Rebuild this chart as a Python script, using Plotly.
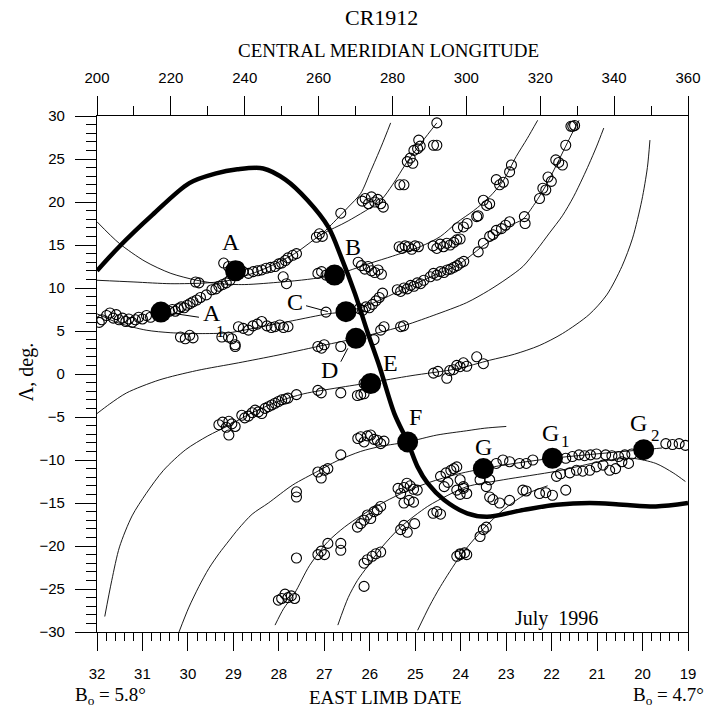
import plotly.graph_objects as go

# ---------------- data ----------------
# bottom axis: east-limb date (July 1996), top axis: central meridian longitude
date_ticks = list(range(19, 33))
lon_range = [200, 360]
date_range = [32, 19]

# thick neutral line (longitude, latitude)
neutral_lon = [200, 206, 215, 225, 232, 238, 245, 251, 257, 262.6, 266.1, 269.8, 273.3,
               276.5, 280.5, 284.1, 286.8, 289.5, 294.0, 300.2, 305.6, 315.5, 324.4,
               333.4, 342.4, 351.3, 360]
neutral_lat = [12.0, 14.8, 18.5, 22.2, 23.3, 23.8, 23.9, 22.6, 20.2, 17.1, 13.6, 9.4, 4.8,
               0.85, -4.6, -7.9, -10.8, -12.7, -14.65, -16.2, -16.6, -15.8, -15.2,
               -15.0, -15.2, -15.4, -15.0]

# thin model curves
t1_lon = [200, 206, 213, 220, 227, 233, 240, 250, 257, 264.3, 274.1, 280, 287.5, 293,
          297.4, 302, 306.3, 310, 313.5, 316.5, 319.3]
t1_lat = [17.7, 15.2, 13.1, 11.7, 10.9, 10.5, 10.4, 10.7, 11.0, 11.5, 12.9, 13.7, 14.8,
          16.0, 17.6, 19.0, 20.6, 22.5, 25.3, 27.4, 29.5]

t2_lon = [200, 210, 220, 230, 236, 244.6, 253.5, 260.7, 268, 276.8, 280, 284, 288, 292]
t2_lat = [10.9, 10.7, 10.5, 10.6, 10.9, 12.1, 14.0, 16.2, 17.8, 20.2, 22.0, 24.7, 27.0, 29.2]

v1_lon = [260.7, 264, 268, 271.4, 274, 277, 279.5]
v1_lat = [16.2, 17.6, 19.4, 21.0, 23.5, 26.5, 29.2]

n2_lon = [200, 206, 213.3, 220, 227.6, 235.7, 244.6, 253, 262.5, 267.4, 272, 277.7, 283,
          288.4, 293, 297.4, 301, 304.5, 308.1, 312, 315.3, 318.5, 321.5, 324.5, 326.9,
          329, 330.5]
n2_lat = [7.0, 5.9, 5.1, 4.8, 4.7, 4.8, 5.5, 6.2, 7.0, 7.25, 7.8, 8.8, 9.9, 10.9, 11.8,
          12.6, 13.7, 14.9, 15.9, 17.3, 18.0, 19.8, 21.9, 24.4, 26.5, 28.3, 29.5]

n3_lon = [200, 203.4, 208, 216.8, 227, 238.3, 249, 259.8, 270.1, 282.2, 291, 300.1, 306,
          311, 315.3, 319, 322.5, 326, 329, 331.5, 333.2, 335.2, 337.2]
n3_lat = [-4.6, -3.5, -2.2, -0.7, 0.4, 1.3, 2.2, 3.2, 4.15, 5.5, 6.8, 8.3, 9.7, 11.1,
          12.5, 14.4, 16.4, 18.4, 20.6, 22.8, 24.4, 26.4, 28.6]

s1_lon = [202.1, 204, 206.1, 209.5, 213.3, 218, 224, 230, 235.6, 242, 249, 256, 265.2,
          274.1, 285, 297.4, 306.3, 313, 319.7, 326, 333.2, 338, 342.1, 345, 347.5, 349,
          349.7]
s1_lat = [-28.2, -24.0, -20.1, -16.5, -13.9, -11.2, -8.8, -7.2, -6.0, -4.5, -3.2, -2.3,
          -1.6, -1.0, -0.2, 0.6, 1.6, 2.3, 3.3, 4.7, 6.9, 9.2, 12.5, 15.8, 20.2, 24.0, 27.2]

s2_lon = [222.2, 224.8, 227.6, 230.3, 233, 235.7, 238.3, 242, 246.4, 253, 259.8, 265,
          271.4, 277, 284.1, 292, 300.1, 305, 310.8]
s2_lat = [-30.0, -27.2, -24.7, -22.6, -20.9, -19.4, -18.0, -16.3, -15.0, -12.9, -11.3,
          -10.1, -9.0, -8.4, -7.9, -7.1, -6.6, -6.3, -6.1]

s3_lon = [248.2, 250.5, 253.5, 257.5, 262.5, 267, 271.4, 277.7, 283.9, 290, 297, 304.6,
          313, 323.3, 335, 348, 353]
s3_lat = [-29.2, -27.3, -25.5, -22.3, -19.5, -17.8, -16.5, -14.9, -13.6, -12.6, -11.7,
          -11.0, -10.4, -9.8, -9.3, -8.8, -8.6]

s4_lon = [265.2, 268, 270.5, 273.2, 277, 282.2, 289.5, 295, 300.1, 310, 324.4, 335,
          340.5, 345, 351.3, 356, 359.3]
s4_lat = [-29.2, -26.0, -24.0, -22.4, -20.2, -17.8, -15.4, -14.1, -13.1, -12.3, -11.3,
          -10.3, -9.9, -9.8, -10.4, -11.5, -12.5]

s5_lon = [286.8, 290, 293, 298.3, 304.6, 310, 316, 322]
s5_lat = [-29.8, -27.0, -24.7, -21.2, -18.0, -15.8, -14.0, -13.0]

# observed filament positions (open circles)
obs_north_lon = [200.6, 201.3, 202.6, 203.5, 204.4, 205.2, 206.0, 206.9, 207.8, 208.6,
                 209.5, 210.4, 211.3, 212.3, 213.4, 214.5, 219.6, 220.4, 221.2, 222.0,
                 222.8, 223.6, 224.4, 225.2, 226.0, 227.0, 228.0, 229.6, 231.1, 232.2,
                 233.0, 234.0, 235.0, 236.0, 226.7, 227.6,
                 234.3, 235.6, 238.3, 239.5, 241.0, 242.3, 243.5, 244.6, 245.8, 247.0,
                 248.2, 249.2, 250.0, 251.0, 251.7, 253.0, 254.0, 259.4, 260.2, 261.0,
                 266.0, 271.8, 272.6, 273.5, 274.3, 275.2, 276.0, 276.8, 277.5, 282.0,
                 283.1, 284.0, 284.8, 285.5, 285.8, 286.8, 287.5, 287.1, 291.1, 292.0,
                 292.0,
                 250.4, 251.3, 259.8, 260.8, 262.0, 270.7, 271.6, 272.5, 273.4, 274.3,
                 275.2, 276.1, 277.0, 281.8, 282.6, 283.4, 284.3, 285.2, 286.1, 287.0,
                 291.0, 292.0, 292.9, 293.8, 294.7, 295.6, 296.6, 297.4, 298.3, 297.6,
                 299.2, 300.2, 302.8, 303.2, 304.6, 305.5, 306.3, 308.1, 309.0, 310.0,
                 311.7, 312.2,
                 262.0, 271.0, 271.9, 272.8, 273.7, 274.6, 275.5, 276.4, 277.3, 281.3,
                 282.2, 283.1, 284.0, 284.9, 285.8, 286.7, 287.6, 288.5, 290.2, 291.1,
                 292.0, 293.0, 293.9, 294.8, 295.7, 296.6, 297.5, 298.4, 299.3, 303.2,
                 304.6, 306.3, 307.2, 308.1, 309.5, 310.6, 311.7, 315.7, 315.9, 319.8,
                 320.7, 321.5, 322.1, 323.0, 324.2, 325.0, 326.0, 326.9, 328.3, 328.8,
                 329.3]
obs_north_lat = [6.0, 6.3, 6.8, 7.1, 6.5, 6.9, 6.3, 6.5, 6.1, 6.4,
                 6.0, 6.3, 6.6, 6.4, 6.8, 6.6, 7.3, 7.5, 7.3, 7.6,
                 7.8, 7.7, 8.0, 8.2, 8.4, 8.6, 8.9, 9.2, 9.8, 9.9,
                 10.2, 10.4, 10.6, 10.9, 10.7, 10.6,
                 12.9, 12.5, 12.5, 11.9, 11.7, 11.9, 12.0, 12.1, 12.3, 12.4,
                 12.5, 12.8, 12.9, 13.2, 13.5, 13.8, 14.0, 15.9, 16.3, 16.0,
                 18.7, 20.1, 20.4, 19.8, 20.6, 20.0, 20.3, 19.8, 19.4, 22.0,
                 22.0, 24.7, 25.1, 24.5, 26.0, 26.2, 26.5, 27.2, 26.6, 26.6,
                 29.2,
                 11.3, 10.5, 11.7, 11.9, 11.5, 13.0, 12.6, 12.2, 12.5, 12.0,
                 11.8, 12.1, 11.6, 14.8, 14.6, 14.9, 14.8, 14.5, 14.9, 14.8,
                 14.9, 14.6, 15.1, 14.8, 15.2, 15.0, 15.3, 15.6, 15.7, 17.0,
                 17.1, 17.5, 18.3, 18.4, 20.2, 19.6, 19.8, 22.6, 22.0, 22.3,
                 23.5, 24.3,
                 7.2, 7.6, 7.4, 7.8, 7.7, 8.1, 8.5, 8.9, 9.4, 9.8,
                 9.6, 10.0, 9.9, 10.3, 10.2, 10.6, 10.5, 10.9, 11.3, 11.7,
                 11.5, 11.9, 11.8, 12.1, 12.2, 12.4, 12.6, 12.9, 13.1, 14.2,
                 15.2, 16.0, 16.2, 16.7, 16.9, 17.3, 17.7, 18.3, 17.5, 20.4,
                 21.6, 21.4, 22.9, 22.4, 24.9, 24.6, 24.3, 26.6, 28.8, 28.8,
                 28.9]

obs_mid_lon = [235.6, 236.5, 233.8, 237.4, 237.4, 238.3, 239.6, 241.0, 242.2, 243.4,
               244.6, 246.0, 247.2, 248.2, 249.5, 250.5, 251.7, 222.6, 223.9, 225.1,
               226.0, 259.8, 260.8, 261.5, 266.0, 275.0, 276.8, 277.7, 282.2, 283.0,
               291.1, 292.3, 294.7, 295.5, 296.5, 297.4, 298.3, 299.2, 300.1, 302.8,
               304.6,
               233.0, 234.0, 235.0, 235.7, 236.5, 237.4, 235.7, 239.2, 240.0, 241.0,
               242.0, 242.8, 243.7, 244.6, 245.5, 246.4, 247.3, 248.2, 249.1, 250.0,
               251.0, 251.7, 254.0, 259.8, 260.7, 266.0, 270.5, 271.4, 272.3, 272.3,
               273.2]
obs_mid_lat = [4.3, 4.1, 4.3, 3.2, 3.4, 5.5, 5.3, 5.1, 5.6, 5.8,
               6.1, 5.6, 5.4, 5.5, 5.7, 5.4, 5.5, 4.3, 4.1, 4.5,
               4.2, 3.2, 3.0, 3.4, 3.2, 4.0, 5.1, 5.5, 5.5, 5.6,
               0.1, 0.3, -0.5, 0.4, 0.5, 1.0, 0.85, 1.3, 0.9, 2.0,
               1.2,
               -5.9, -5.6, -6.2, -5.5, -5.8, -6.1, -7.1, -4.8, -5.1, -4.9,
               -4.5, -4.2, -4.4, -4.6, -4.0, -3.8, -3.6, -3.4, -3.2, -3.0,
               -2.9, -2.8, -2.4, -1.9, -2.2, -2.2, -2.5, -2.4, -2.3, -1.1,
               -1.5]

obs_south_lon = [254.0, 254.0, 259.8, 260.7, 261.6, 262.5, 266.0, 270.6, 271.4, 272.3,
                 273.2, 274.1, 275.0, 275.9, 276.8, 277.7,
                 249.1, 250.0, 250.9, 251.7, 252.6, 253.5, 254.0, 259.8, 260.7, 261.6,
                 262.5, 266.0, 266.0, 270.5, 271.4, 272.3, 273.2, 274.1, 275.0, 275.9,
                 276.8, 281.5, 282.2, 283.1, 283.9, 284.8, 285.7, 286.7, 283.1, 284.5,
                 285.7, 272.3, 273.2, 274.5, 275.5, 276.8, 282.2, 283.1, 284.0, 286.0,
                 291.0, 292.0, 293.0, 293.0, 294.5, 295.8, 296.6, 294.0, 295.0, 297.4,
                 298.3, 299.2, 300.1, 297.4, 298.3, 299.2, 303.7, 305.4, 306.3, 308.1,
                 309.9, 311.7, 314.4, 316.2, 318.0, 326.9, 328.7, 330.5, 332.0, 333.6,
                 335.2, 337.7, 339.4, 341.2, 342.9, 344.8, 335.2, 337.0, 338.8, 340.4,
                 342.1, 343.9, 324.4, 325.5, 328.0, 329.8, 331.5, 333.4, 315.3, 316.2,
                 319.8, 321.5, 323.3, 326.9, 306.3, 307.2, 309.0, 311.7, 303.7, 304.6,
                 305.4, 298.3, 300.1, 354.0, 355.8, 357.6, 359.3]
obs_south_lat = [-13.7, -14.3, -11.4, -12.1, -11.2, -11.0, -9.4, -7.5, -7.3, -7.9,
                 -7.2, -7.1, -7.6, -7.7, -8.1, -7.8,
                 -26.3, -26.1, -25.6, -26.0, -25.8, -26.1, -21.4, -21.0, -20.6, -21.0,
                 -19.7, -19.7, -20.5, -17.8, -17.4, -17.0, -16.4, -16.8, -16.0, -15.8,
                 -15.4, -13.3, -13.9, -13.2, -12.7, -13.0, -13.4, -13.5, -15.0, -14.7,
                 -14.9, -22.0, -21.6, -21.2, -20.9, -20.7, -18.1, -17.6, -18.4, -17.4,
                 -16.2, -16.0, -16.3, -11.9, -11.5, -11.2, -11.0, -13.1, -12.6, -10.8,
                 -12.3, -13.1, -13.9, -13.5, -14.0, -13.3, -12.3, -13.1, -12.3, -10.4,
                 -10.0, -10.2, -10.4, -10.4, -10.0, -9.8, -9.6, -9.4, -9.5, -9.4,
                 -9.3, -9.4, -9.5, -9.6, -9.4, -9.3, -10.8, -10.6, -11.2, -11.0,
                 -10.2, -10.4, -11.9, -11.6, -11.5, -11.2, -11.3, -11.2, -13.5, -13.6,
                 -13.9, -13.8, -14.1, -13.5, -14.3, -14.6, -15.0, -14.7, -18.9, -18.1,
                 -17.8, -20.9, -21.0, -8.1, -8.2, -8.1, -8.3]

obs_extra_lon = [272.3, 297.4, 298.3, 299.5]
obs_extra_lat = [-24.7, -21.2, -21.0, -20.8]

# marked points (filled)
dot_lon = [237.5, 217.3, 264.3, 267.4, 270.1, 274.1, 284.1, 304.6, 323.3, 348.0]
dot_lat = [12.0, 7.2, 11.5, 7.25, 4.15, -1.1, -7.9, -11.0, -9.8, -8.8]

# letter labels
label_text = ["A", "A", "B", "C", "D", "E", "F", "G", "G", "G"]
label_lon = [236.3, 231.0, 269.2, 253.5, 262.9, 279.5, 286.2, 304.6, 322.9, 346.6]
label_lat = [15.3, 7.1, 14.8, 8.4, 0.45, 1.24, -5.0, -8.45, -6.9, -5.7]
sub_text = ["1", "1", "2"]
sub_lon = [233.4, 326.8, 351.2]
sub_lat = [5.0, -7.9, -7.1]

# leader lines from letters to marked points: (lon0, lat0, lon1, lat1)
leader_lines = [(220.4, 7.06, 227.6, 6.6),
                (256.6, 7.94, 262.5, 7.25),
                (266.0, 1.43, 267.9, 2.98)]

# ---------------- figure ----------------
SERIF = "Liberation Serif, Times New Roman, serif"
SANS = "Liberation Sans, Arial, sans-serif"

fig = go.Figure()

# keeps the bottom date axis in the plot
fig.add_trace(go.Scatter(x=date_ticks, y=[None] * len(date_ticks), xaxis="x", yaxis="y",
                         mode="markers", showlegend=False, hoverinfo="skip"))

thin = [(t1_lon, t1_lat), (t2_lon, t2_lat), (v1_lon, v1_lat), (n2_lon, n2_lat),
        (n3_lon, n3_lat), (s1_lon, s1_lat), (s2_lon, s2_lat), (s3_lon, s3_lat),
        (s4_lon, s4_lat), (s5_lon, s5_lat)]
for lx, ly in thin:
    fig.add_trace(go.Scatter(x=lx, y=ly, xaxis="x2", yaxis="y", mode="lines",
                             line=dict(color="black", width=0.9, shape="spline", smoothing=0.8),
                             showlegend=False, hoverinfo="skip"))

for lx, ly in [(obs_north_lon, obs_north_lat), (obs_mid_lon, obs_mid_lat),
               (obs_south_lon, obs_south_lat), (obs_extra_lon, obs_extra_lat)]:
    fig.add_trace(go.Scatter(x=lx, y=ly, xaxis="x2", yaxis="y", mode="markers",
                             marker=dict(symbol="circle-open", size=10, color="black",
                                         line=dict(width=1.1, color="black")),
                             showlegend=False, hoverinfo="skip"))

fig.add_trace(go.Scatter(x=neutral_lon, y=neutral_lat, xaxis="x2", yaxis="y", mode="lines",
                         line=dict(color="black", width=4.5, shape="spline", smoothing=0.9),
                         showlegend=False, hoverinfo="skip"))

fig.add_trace(go.Scatter(x=dot_lon, y=dot_lat, xaxis="x2", yaxis="y", mode="markers",
                         marker=dict(symbol="circle", size=21, color="black"),
                         showlegend=False, hoverinfo="skip"))

for x0, y0, x1, y1 in leader_lines:
    fig.add_shape(type="line", xref="x2", yref="y", x0=x0, y0=y0, x1=x1, y1=y1,
                  line=dict(color="black", width=1))


def note(text, x, y, size, xref="paper", yref="paper", xanchor="center", angle=0):
    return dict(text=text, x=x, y=y, xref=xref, yref=yref, showarrow=False,
                xanchor=xanchor, yanchor="middle", textangle=angle,
                font=dict(family=SERIF, size=size, color="black"))


ann = []
for t, x, y in zip(label_text, label_lon, label_lat):
    ann.append(note(t, x, y, 24, "x2", "y"))
for t, x, y in zip(sub_text, sub_lon, sub_lat):
    ann.append(note(t, x, y, 17, "x2", "y"))
ann.append(note("July  1996", 324.3, -28.4, 20, "x2", "y"))
ann.append(note("CR1912", 0.481, 1.191, 22))
ann.append(note("CENTRAL MERIDIAN LONGITUDE", 0.494, 1.127, 19))
ann.append(note("EAST LIMB DATE", 0.488, -0.126, 19))
ann.append(note("B<sub>o</sub> = 5.8°", -0.041, -0.124, 19, xanchor="left"))
ann.append(note("B<sub>o</sub> = 4.7°", 1.031, -0.124, 19, xanchor="right"))
ann.append(note("Λ, deg.", -0.118, 0.504, 20, angle=-90))

axis_common = dict(showgrid=False, zeroline=False, showline=True, linecolor="black",
                   linewidth=1.2, ticks="outside", tickcolor="black", tickwidth=1,
                   tickfont=dict(family=SANS, size=15, color="black"))

fig.update_layout(
    width=713, height=718, autosize=False,
    margin=dict(l=97, r=20, t=116, b=86),
    paper_bgcolor="white", plot_bgcolor="white", showlegend=False,
    annotations=ann,
    xaxis=dict(range=date_range, tickmode="array", tickvals=date_ticks, ticklen=18,
               ticklabelstandoff=10,
               minor=dict(dtick=0.2, tick0=19, ticklen=8, ticks="outside", tickcolor="black",
                          tickwidth=1),
               **axis_common),
    xaxis2=dict(range=lon_range, overlaying="x", side="top", anchor="y", tick0=200, dtick=20,
                ticklen=19, ticklabelstandoff=7,
                minor=dict(dtick=10, tick0=200, ticklen=9, ticks="outside", tickcolor="black",
                           tickwidth=1),
                **axis_common),
    yaxis=dict(range=[-30, 30], tick0=-30, dtick=5, ticklen=21, mirror=True,
               ticklabelstandoff=7,
               minor=dict(dtick=1, tick0=-30, ticklen=10, ticks="outside", tickcolor="black",
                          tickwidth=1),
               **axis_common),
)

fig.write_html("out.html")
